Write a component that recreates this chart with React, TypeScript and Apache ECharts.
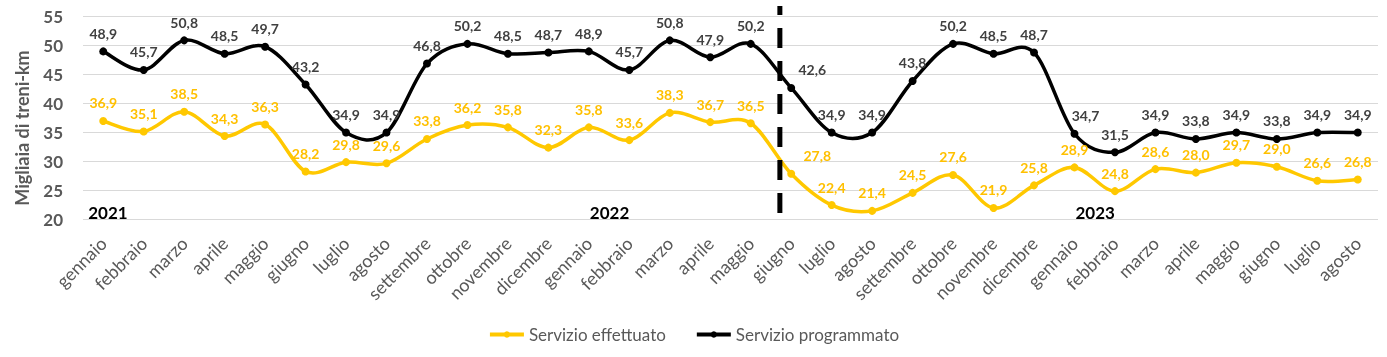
import React, { useEffect, useRef } from "react";
import * as echarts from "echarts";

const months = [
  "gennaio", "febbraio", "marzo", "aprile", "maggio", "giugno", "luglio", "agosto",
  "settembre", "ottobre", "novembre", "dicembre",
  "gennaio", "febbraio", "marzo", "aprile", "maggio", "giugno", "luglio", "agosto",
  "settembre", "ottobre", "novembre", "dicembre",
  "gennaio", "febbraio", "marzo", "aprile", "maggio", "giugno", "luglio", "agosto",
];
const categories = months.map((m, i) => `${m}|${i}`);

const programmato = [
  48.9, 45.7, 50.8, 48.5, 49.7, 43.2, 34.9, 34.9, 46.8, 50.2, 48.5, 48.7,
  48.9, 45.7, 50.8, 47.9, 50.2, 42.6, 34.9, 34.9, 43.8, 50.2, 48.5, 48.7,
  34.7, 31.5, 34.9, 33.8, 34.9, 33.8, 34.9, 34.9,
];
const effettuato = [
  36.9, 35.1, 38.5, 34.3, 36.3, 28.2, 29.8, 29.6, 33.8, 36.2, 35.8, 32.3,
  35.8, 33.6, 38.3, 36.7, 36.5, 27.8, 22.4, 21.4, 24.5, 27.6, 21.9, 25.8,
  28.9, 24.8, 28.6, 28.0, 29.7, 29.0, 26.6, 26.8,
];
const yearLabels = ["2021", "2022", "2023"];
const yearStartIndex = [0, 12, 24];
const yAxisTitle = "Migliaia di treni-km";

const FONT = "Lato, 'Open Sans', sans-serif";
const YELLOW = "#FFC800";
const YELLOW_LABEL = "#FFC000";
const fmt = (v: number) => v.toFixed(1).replace(".", ",");

function curveSeries(values: number[], color: string) {
  const n = values.length;
  const t = 1 / 6;
  return {
    type: "custom",
    silent: true,
    z: 2,
    clip: false,
    data: values.map((v, i) => [i, v]),
    encode: { x: 0, y: 1 },
    renderItem: (params: any, api: any) => {
      const i = params.dataIndex;
      if (i >= n - 1) return null;
      const c = (k: number) => {
        const kk = Math.max(0, Math.min(n - 1, k));
        return api.coord([kk, values[kk]]);
      };
      const p0 = c(i - 1), p1 = c(i), p2 = c(i + 1), p3 = c(i + 2);
      return {
        type: "bezierCurve",
        shape: {
          x1: p1[0], y1: p1[1], x2: p2[0], y2: p2[1],
          cpx1: p1[0] + (p2[0] - p0[0]) * t,
          cpy1: p1[1] + (p2[1] - p0[1]) * t,
          cpx2: p2[0] - (p3[0] - p1[0]) * t,
          cpy2: p2[1] - (p3[1] - p1[1]) * t,
        },
        style: { stroke: color, lineWidth: 3.5, fill: null, lineCap: "round" },
      };
    },
  };
}

export default function App() {
  const ref = useRef<HTMLDivElement>(null);
  useEffect(() => {
    if (!ref.current) return;
    const chart = echarts.init(ref.current, null, { renderer: "svg" });
    const labelBase = {
      show: true,
      position: "top",
      distance: 7,
      fontSize: 14,
      fontWeight: "bold",
      fontFamily: FONT,
      formatter: (p: any) => fmt(p.value),
    };
    const option: any = {
      animation: false,
      textStyle: { fontFamily: FONT },
      grid: { left: 83, right: 9, top: 16, bottom: 138 },
      legend: {
        top: 321,
        left: "center",
        itemGap: 29,
        itemWidth: 34,
        itemHeight: 8,
        lineStyle: { opacity: 1, width: 4 },
        textStyle: { fontSize: 17, color: "#595959", fontFamily: FONT },
        data: ["Servizio effettuato", "Servizio programmato"],
      },
      xAxis: {
        type: "category",
        data: categories,
        boundaryGap: true,
        axisLine: { show: false },
        axisTick: { show: false },
        axisLabel: {
          interval: 0,
          rotate: 45,
          fontSize: 18,
          color: "#595959",
          margin: 21,
          formatter: (v: string) => v.split("|")[0],
        },
      },
      yAxis: {
        type: "value",
        min: 20,
        max: 55,
        interval: 5,
        axisLine: { show: false },
        axisTick: { show: false },
        axisLabel: { fontSize: 17, fontWeight: "bold", color: "#595959", margin: 20 },
        splitLine: { lineStyle: { color: "#d9d9d9", width: 1 } },
      },
      series: [
        curveSeries(effettuato, YELLOW),
        curveSeries(programmato, "#000000"),
        {
          name: "Servizio effettuato",
          type: "line",
          symbol: "circle",
          symbolSize: 8,
          z: 3,
          itemStyle: { color: YELLOW },
          lineStyle: { color: YELLOW, width: 3.5, opacity: 0 },
          label: { ...labelBase, color: YELLOW_LABEL },
          data: effettuato.map((v, i) =>
            i === 17 ? { value: v, label: { offset: [26, 0] } } : v
          ),
        },
        {
          name: "Servizio programmato",
          type: "line",
          symbol: "circle",
          symbolSize: 8,
          z: 4,
          itemStyle: { color: "#000000" },
          lineStyle: { color: "#000000", width: 3.5, opacity: 0 },
          label: { ...labelBase, color: "#404040" },
          data: programmato.map((v, i) =>
            i === 17
              ? { value: v, label: { offset: [21, 0] } }
              : i === 24
              ? { value: v, label: { offset: [11, 0] } }
              : v
          ),
        },
      ],
    };
    chart.setOption(option);

    const px = (idx: number, val: number) =>
      chart.convertToPixel({ gridIndex: 0 } as any, [idx, val]) as number[];
    const a = px(16, 20);
    const b = px(17, 20);
    const xDash = a[0] + (b[0] - a[0]) * 0.72;
    const yBottom = a[1] - 6;
    const yTop = px(16, 55)[1] - 10;
    const graphics: any[] = [
      {
        type: "line",
        shape: { x1: xDash, y1: yBottom, x2: xDash, y2: yTop },
        style: { stroke: "#000", lineWidth: 5, lineDash: [20, 13] },
        z: 10,
      },
      {
        type: "text",
        x: 22,
        y: 128,
        rotation: Math.PI / 2,
        style: {
          text: yAxisTitle,
          fontSize: 18,
          fontWeight: "bold",
          fontFamily: FONT,
          fill: "#595959",
          textAlign: "center",
          textVerticalAlign: "middle",
        },
      },
    ];
    yearLabels.forEach((t, k) => {
      const p = px(yearStartIndex[k], 21.2);
      graphics.push({
        type: "text",
        x: k === 0 ? p[0] - 15 : p[0] + 1,
        y: p[1],
        style: {
          text: t,
          fontSize: 17,
          fontWeight: "bold",
          fontFamily: FONT,
          fill: "#000",
          textVerticalAlign: "middle",
          textAlign: "left",
        },
        z: 10,
      });
    });
    chart.setOption({ graphic: graphics });
    return () => chart.dispose();
  }, []);
  return (
    <div
      ref={ref}
      style={{ position: "fixed", left: 0, top: 0, width: 1387, height: 357 }}
    />
  );
}
